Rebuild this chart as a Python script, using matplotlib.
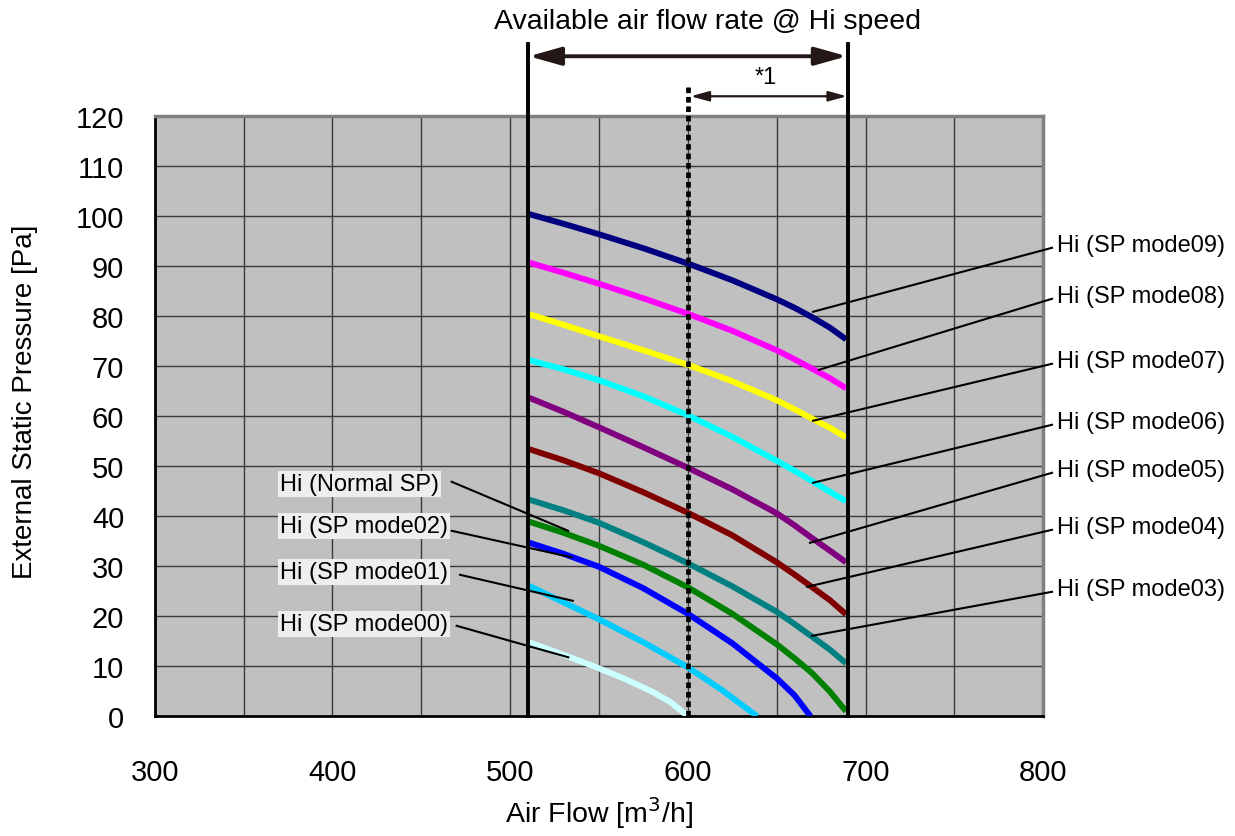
import numpy as np
import matplotlib.pyplot as plt

plt.rcParams['font.family'] = ['Liberation Sans', 'DejaVu Sans']

# air flow [m3/h] sample points
flow_full = [510, 530, 550, 575, 600, 625, 650, 660, 670, 680, 689]

# external static pressure [Pa], one list per fan mode
sp_mode09 = [100.5, 98.5, 96.4, 93.6, 90.55, 87.2, 83.4, 81.7, 79.8, 77.7, 75.4]
sp_mode08 = [90.8, 88.7, 86.5, 83.6, 80.5, 77.1, 73.2, 71.4, 69.5, 67.6, 65.6]
sp_mode07 = [80.5, 78.3, 76.0, 73.2, 70.3, 67.0, 63.2, 61.4, 59.5, 57.7, 55.8]
sp_mode06 = [71.3, 69.4, 67.2, 64.0, 60.2, 55.9, 51.1, 49.1, 47.0, 44.9, 43.0]
sp_mode05 = [63.8, 60.9, 57.8, 53.8, 49.7, 45.4, 40.6, 38.2, 35.6, 33.1, 30.8]
sp_mode04 = [53.5, 51.2, 48.6, 44.8, 40.7, 36.2, 30.8, 28.35, 25.8, 23.2, 20.4]
sp_mode03 = [43.4, 41.2, 38.7, 34.8, 30.6, 26.0, 20.9, 18.45, 15.9, 13.3, 10.6]
sp_normal = [39.0, 36.7, 34.1, 30.3, 25.8, 20.5, 14.4, 11.6, 8.6, 4.9, 1.0]

flow_mode02 = [510, 530, 550, 575, 600, 625, 650, 660, 669]
sp_mode02 = [34.8, 32.5, 29.9, 25.6, 20.5, 14.6, 7.6, 4.2, 0.0]

flow_mode01 = [510, 530, 550, 575, 600, 619, 639]
sp_mode01 = [26.2, 22.8, 19.4, 14.8, 9.8, 5.3, 0.0]

flow_mode00 = [510, 530, 550, 565, 580, 590, 600]
sp_mode00 = [14.9, 12.3, 9.6, 7.4, 4.9, 2.9, 0.0]

range_lo, range_hi, range_mid = 510, 690, 600

curves = [
    (flow_full, sp_mode09, '#000080'),
    (flow_full, sp_mode08, '#FF00FF'),
    (flow_full, sp_mode07, '#FFFF00'),
    (flow_full, sp_mode06, '#00FFFF'),
    (flow_full, sp_mode05, '#800080'),
    (flow_full, sp_mode04, '#800000'),
    (flow_full, sp_mode03, '#008080'),
    (flow_full, sp_normal, '#008000'),
    (flow_mode02, sp_mode02, '#0000FF'),
    (flow_mode01, sp_mode01, '#00CCFF'),
    (flow_mode00, sp_mode00, '#CCFFFF'),
]

# right-hand labels: text, label y, curve point (x, y)
right_labels = [
    ('Hi (SP mode09)', 93.7, 670.4, 80.9),
    ('Hi (SP mode08)', 83.5, 673.8, 69.3),
    ('Hi (SP mode07)', 70.5, 670.4, 59.1),
    ('Hi (SP mode06)', 58.3, 670.4, 46.7),
    ('Hi (SP mode05)', 48.7, 668.7, 34.7),
    ('Hi (SP mode04)', 37.3, 667.1, 25.9),
    ('Hi (SP mode03)', 24.9, 669.9, 16.1),
]
# left-hand labels: text, label y, leader start x, leader start y, curve point
left_labels = [
    ('Hi (Normal SP)', 46.5, 467.1, 46.9, 532.6, 37.1),
    ('Hi (SP mode02)', 38.1, 467.1, 37.1, 534.6, 31.8),
    ('Hi (SP mode01)', 28.8, 471.8, 28.3, 535.2, 23.1),
    ('Hi (SP mode00)', 18.5, 469.9, 18.1, 532.7, 11.8),
]

fig = plt.figure(figsize=(12.35, 8.37), dpi=100)
ax = fig.add_axes([0.1253, 0.1430, 0.8448 - 0.1253, 0.8599 - 0.1430])
ax.set_facecolor('#C0C0C0')
ax.set_xlim(300, 800)
ax.set_ylim(0, 120)
ax.set_xticks(range(300, 801, 100))
ax.set_xticks(range(350, 800, 50), minor=True)
ax.set_yticks(range(0, 121, 10))
ax.grid(True, which='both', color='#3a3a3a', lw=1.0)
ax.set_axisbelow(True)
ax.tick_params(which='both', length=0, labelsize=21)
ax.tick_params(axis='y', pad=22)
ax.tick_params(axis='x', pad=30)
for s in ['top', 'right']:
    ax.spines[s].set_color('#808080')
    ax.spines[s].set_linewidth(2.5)
for s in ['left', 'bottom']:
    ax.spines[s].set_color('black')
    ax.spines[s].set_linewidth(2)

for xs, ys, c in curves:
    ax.plot(xs, ys, color=c, lw=4.3, solid_capstyle='butt',
            solid_joinstyle='round', zorder=3)

# available range markers
ax.plot([range_lo, range_lo], [0, 134.5], color='black', lw=2.8, clip_on=False, zorder=4)
ax.plot([range_hi, range_hi], [0, 134.5], color='black', lw=2.8, clip_on=False, zorder=4)
ax.plot([range_mid, range_mid], [0, 126.3], color='black', lw=3.4, ls=(0, (1.2, 0.8)),
        clip_on=False, zorder=4)
ax.annotate('', xy=(range_lo + 0.5, 132), xytext=(range_hi - 0.5, 132),
            arrowprops=dict(arrowstyle='<|-|>,head_length=1.95,head_width=0.55',
                            mutation_scale=10, color='#231815', lw=2.8,
                            shrinkA=0, shrinkB=0),
            annotation_clip=False)
ax.annotate('', xy=(range_mid + 1.5, 124), xytext=(range_hi - 0.5, 124),
            arrowprops=dict(arrowstyle='<|-|>,head_length=1.1,head_width=0.3',
                            mutation_scale=10, color='#231815', lw=1.6,
                            shrinkA=0, shrinkB=0),
            annotation_clip=False)
ax.text(644, 127.9, '*1', fontsize=17, ha='center', va='center')
ax.text(610.8, 139.1, 'Available air flow rate @ Hi speed', fontsize=20.5,
        ha='center', va='center')

for txt, ly, cx, cy in right_labels:
    ax.plot([804.9, cx], [ly, cy], color='black', lw=1.5, clip_on=False, zorder=5)
    ax.text(807.7, ly + 0.6, txt, fontsize=17, ha='left', va='center')

for txt, ly, sx, sy, cx, cy in left_labels:
    ax.plot([sx, cx], [sy, cy], color='black', lw=1.5, zorder=5)
    ax.text(370.5, ly, txt, fontsize=17, ha='left', va='center', zorder=6,
            bbox=dict(boxstyle='square,pad=0.08', fc='#EEEEEE', ec='none'))

ax.set_xlabel('Air Flow [m$^3$/h]', fontsize=20.5, labelpad=6)
ax.set_ylabel('External Static Pressure [Pa]', fontsize=20, labelpad=27)
ax.yaxis.label.set_y(0.525)

fig.savefig('out.png', dpi=100)
